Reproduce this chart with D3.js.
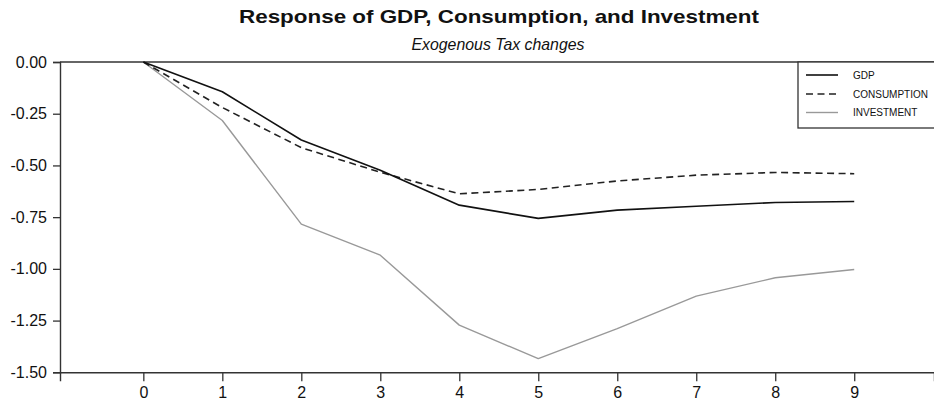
<!DOCTYPE html>
<html>
<head>
<meta charset="utf-8">
<script src="https://cdn.jsdelivr.net/npm/d3@7"></script>
<style>
  html, body { margin: 0; padding: 0; background: #fff; }
  svg { display: block; }
  text { font-family: "Liberation Sans", Arial, Helvetica, sans-serif; fill: #111; }
</style>
</head>
<body>
<svg id="chart" width="934" height="407"></svg>
<script>
const periods = [0, 1, 2, 3, 4, 5, 6, 7, 8, 9];
const gdp = [0, -0.144, -0.377, -0.523, -0.692, -0.756, -0.716, -0.697, -0.679, -0.674];
const consumption = [0, -0.22, -0.414, -0.533, -0.637, -0.616, -0.575, -0.547, -0.534, -0.54];
const investment = [0, -0.283, -0.784, -0.934, -1.272, -1.434, -1.289, -1.132, -1.043, -1.003];
const yTicks = [0, -0.25, -0.5, -0.75, -1.0, -1.25, -1.5];
const seriesNames = ["GDP", "CONSUMPTION", "INVESTMENT"];
const titleText = "Response of GDP, Consumption, and Investment";
const subtitleText = "Exogenous Tax changes";

(function () {
const svg = d3.select("#chart");
const mLeft = 60, mRight = 934, mTop = 62, mBottom = 372.3;

const x = d3.scaleLinear().domain([-1.055, 10.01]).range([mLeft, mRight]);
const y = d3.scaleLinear().domain([-1.5, 0]).range([mBottom, mTop]);

const axisColor = "#333";

// Title and subtitle
svg.append("text")
  .attr("x", 499).attr("y", 23)
  .attr("text-anchor", "middle")
  .attr("font-size", 19).attr("font-weight", "bold")
  .attr("textLength", 520).attr("lengthAdjust", "spacingAndGlyphs")
  .text(titleText);
svg.append("text")
  .attr("x", 498).attr("y", 50)
  .attr("text-anchor", "middle")
  .attr("font-size", 17).attr("font-style", "italic")
  .attr("textLength", 173).attr("lengthAdjust", "spacingAndGlyphs")
  .text(subtitleText);

const fmt = v => d3.format(".2f")(v).replace("\u2212", "-");

// Y axis
const yAxis = svg.append("g")
  .attr("transform", `translate(${mLeft},0)`)
  .call(d3.axisLeft(y).tickValues(yTicks).tickFormat(fmt).tickSize(7).tickPadding(6));
yAxis.selectAll("text").attr("font-size", 16).style("font-family", '"Liberation Sans", Arial, sans-serif').attr("fill", "#111");

// X axis
const xAxis = svg.append("g")
  .attr("transform", `translate(0,${mBottom})`)
  .call(d3.axisBottom(x).tickValues(periods).tickFormat(d3.format("d")).tickSize(9).tickPadding(5));
xAxis.selectAll("text").attr("font-size", 16).style("font-family", '"Liberation Sans", Arial, sans-serif').attr("fill", "#111");

[yAxis, xAxis].forEach(g => {
  g.select(".domain").attr("stroke", axisColor).attr("stroke-width", 1.4);
  g.selectAll(".tick line").attr("stroke", axisColor).attr("stroke-width", 1.3);
});

// Top frame line
svg.append("line")
  .attr("x1", mLeft).attr("x2", mRight)
  .attr("y1", y(0)).attr("y2", y(0))
  .attr("stroke", axisColor).attr("stroke-width", 1.4);

// Lines
const styles = [
  { data: gdp, stroke: "#111", width: 1.6, dash: null },
  { data: consumption, stroke: "#222", width: 1.6, dash: "7,4.5" },
  { data: investment, stroke: "#999", width: 1.4, dash: null }
];
const line = d3.line().x((d, i) => x(periods[i])).y(d => y(d));

[2, 1, 0].forEach(k => {
  const s = styles[k];
  svg.append("path")
    .datum(s.data)
    .attr("fill", "none")
    .attr("stroke", s.stroke)
    .attr("stroke-width", s.width)
    .attr("stroke-dasharray", s.dash)
    .attr("stroke-linejoin", "round")
    .attr("d", line);
});

// Legend
const lg = svg.append("g");
lg.append("rect")
  .attr("x", 798).attr("y", y(0))
  .attr("width", 140).attr("height", 128 - y(0))
  .attr("fill", "#fff")
  .attr("stroke", axisColor).attr("stroke-width", 1.3);
const rowY = [75, 94, 112.5];
seriesNames.forEach((name, i) => {
  const s = styles[i];
  lg.append("line")
    .attr("x1", 806).attr("x2", 838)
    .attr("y1", rowY[i]).attr("y2", rowY[i])
    .attr("stroke", s.stroke).attr("stroke-width", s.width)
    .attr("stroke-dasharray", s.dash);
  lg.append("text")
    .attr("x", 853).attr("y", rowY[i] + 3.6)
    .attr("font-size", 10)
    .text(name);
});
})();
</script>
</body>
</html>
